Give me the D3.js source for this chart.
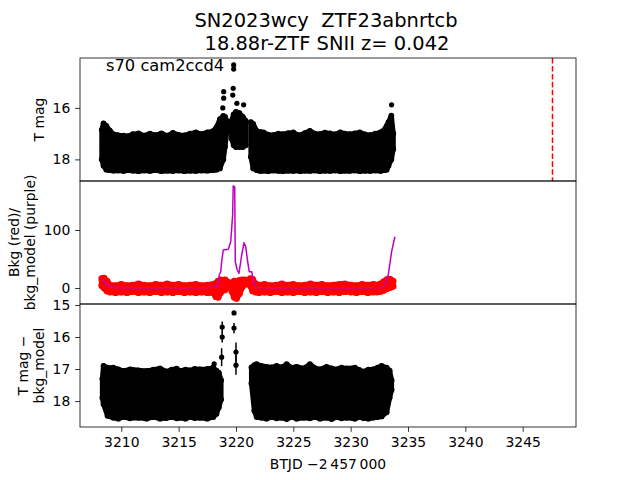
<!DOCTYPE html>
<html><head><meta charset="utf-8">
<script src="https://cdn.jsdelivr.net/npm/d3@7"></script>
<style>
body{margin:0;background:#fff}
svg{display:block}
text{font-family:"DejaVu Sans",sans-serif;fill:#000;white-space:pre}
</style>
</head><body>
<svg id="c" width="640" height="480"></svg>
<script>
// ---------------- data ----------------
const titleLines = ["SN2023wcy  ZTF23abnrtcb", "18.88r-ZTF SNII z= 0.042"];
const sectorLabel = "s70 cam2ccd4";
const xLabel = "BTJD \u22122\u2009457\u2009000";
const xTicks = [3210, 3215, 3220, 3225, 3230, 3235, 3240, 3245];
const magTicks = [16, 18];
const bkgTicks = [0, 100];
const diffTicks = [15, 16, 17, 18];
const refTime = 3247.6;

// Top panel: T mag, dense light curve envelope (bright edge / faint edge), null = gap
const magT  = [3208.30,3208.45,3208.70,3209.00,3209.30,3209.70,3210.20,3210.60,3211.00,3211.50,3212.00,3212.50,3213.00,3213.50,3214.00,3214.50,3215.00,3215.50,3216.00,3216.50,3217.00,3217.50,3218.00,3218.30,3218.60,3218.90,3219.05,3219.20,
               null,
               3219.62,3219.80,3220.00,3220.30,3220.60,3220.85,
               null,
               3221.30,3221.50,3221.80,3222.10,3222.40,3222.80,3223.25,3223.70,3224.10,3224.55,3225.00,3225.30,3225.60,3226.00,3226.45,3226.90,3227.30,3227.75,3228.20,3228.65,3229.10,3229.50,3229.90,3230.35,3230.80,3231.25,3231.70,3232.15,3232.60,3233.00,3233.14,3233.30,3233.55,3233.72];
const magHi = [16.85,16.60,16.70,16.88,17.02,17.06,17.08,17.10,17.02,16.99,17.08,17.00,17.06,16.99,17.08,16.97,17.05,17.07,17.00,16.95,17.02,16.95,16.90,16.76,16.44,16.31,16.35,16.50,
               null,
               16.50,16.25,16.15,16.20,16.35,16.50,
               null,
               16.55,16.62,16.89,16.93,16.95,17.04,17.06,17.00,17.02,16.98,16.95,17.04,17.06,16.98,16.89,17.00,17.02,16.96,16.99,17.03,16.95,17.00,17.02,16.99,16.95,17.03,17.06,17.00,16.95,16.82,16.70,16.55,16.30,17.00];
const magLo = [18.00,18.25,18.40,18.42,18.44,18.43,18.45,18.42,18.44,18.46,18.43,18.45,18.42,18.46,18.44,18.45,18.43,18.46,18.44,18.45,18.43,18.44,18.42,18.40,18.35,18.00,17.50,16.95,
               null,
               17.20,17.45,17.52,17.52,17.52,17.45,
               null,
               17.90,18.35,18.42,18.45,18.44,18.46,18.43,18.45,18.46,18.44,18.45,18.43,18.46,18.44,18.45,18.43,18.46,18.44,18.45,18.43,18.46,18.44,18.45,18.43,18.46,18.44,18.45,18.43,18.45,18.42,18.40,18.25,18.00,17.60];
// Top panel: isolated flare points
const flareT   = [3218.85,3218.93,3218.93,3219.72,3219.76,3219.80,3219.80,3220.08,3220.67,3233.57];
const flareMag = [16.00,15.62,15.37,15.50,15.24,14.49,14.33,15.82,15.88,15.88];
const flareErr = [0.05,0.05,0.05,0.05,0.05,0.06,0.06,0.05,0.05,0.05];

// Middle panel: background flux envelope (red) and background model (purple)
const bkgT  = [3208.30,3208.50,3208.75,3209.00,3209.50,3210.00,3210.50,3211.00,3211.50,3212.00,3212.50,3213.00,3213.50,3214.00,3214.50,3215.00,3215.50,3216.00,3216.50,3217.00,3217.50,3218.00,3218.25,3218.45,3218.65,3218.85,3219.05,3219.30,
               null,
               3219.65,3219.85,3220.05,3220.30,3220.55,3220.75,
               null,
               3221.25,3221.45,3221.70,3222.00,3222.50,3223.00,3223.50,3224.00,3224.50,3225.00,3225.50,3226.00,3226.50,3227.00,3227.50,3228.00,3228.50,3229.00,3229.50,3230.00,3230.50,3231.00,3231.50,3232.00,3232.30,3232.60,3232.90,3233.20,3233.45,3233.70];
const bkgHi = [16,17,12,5,4,6,4,5,7,5,4,6,5,7,5,6,4,5,6,4,5,6,8,12,14,10,14,10,
               null,
               8,12,10,13,14,14,
               null,
               16,15,7,5,6,4,5,7,5,6,4,5,7,5,6,4,5,6,7,5,4,6,5,6,5,7,11,15,15,12];
const bkgLo = [4,0,-5,-7,-8,-7,-8,-6,-8,-7,-8,-6,-8,-7,-8,-6,-8,-7,-8,-7,-8,-8,-15,-16,-8,-4,-3,2,
               null,
               -6,-16,-18,-10,2,6,
               null,
               4,-5,-7,-8,-7,-8,-6,-8,-7,-8,-6,-8,-7,-8,-6,-8,-7,-8,-6,-7,-8,-6,-8,-7,-7,-6,-4,-1,1,3];
const modelT = [3208.29,3208.45,3208.58,3209.01,3209.50,3210.50,3212.00,3214.00,3216.00,3217.50,3218.10,3218.32,3218.45,3218.54,3218.67,3218.75,3218.89,3219.33,3219.54,3219.71,3219.76,3219.89,3219.94,3220.11,3220.26,3220.50,3220.70,3220.85,3221.02,3221.16,3221.37,3221.57,3221.80,3223.00,3225.00,3227.00,3229.00,3231.00,3232.70,3232.99,3233.28,3233.57,3233.86];
const modelV = [15.5,11,8.1,2.2,0.8,0.5,0.6,0.5,0.6,0.8,1.2,2.2,10,22.4,28.1,45,65.5,66.7,79.8,125.9,175.9,174.7,45.3,31,25.3,56.9,78.1,71.2,45.3,28.1,28.1,8.1,0.8,0.5,0.6,0.5,0.6,0.5,0.8,5.2,22.4,62.6,88.4];

// Bottom panel: T mag - bkg_model envelope
const diffT  = [3208.35,3208.45,3208.80,3209.30,3209.75,3210.17,3210.76,3211.50,3212.21,3212.80,3213.37,3213.95,3214.40,3214.83,3215.12,3215.60,3215.99,3216.40,3216.86,3217.50,3218.02,3218.30,3218.50,3218.70,
                null,
                3221.35,3221.60,3221.80,3222.20,3222.67,3223.10,3223.54,3224.00,3224.42,3224.85,3225.29,3225.90,3226.45,3226.90,3227.32,3227.90,3228.35,3228.78,3229.20,3229.65,3230.37,3230.75,3231.10,3231.55,3231.97,3232.35,3232.70,3233.14,3233.40,3233.57];
const diffHi = [17.30,16.90,16.96,16.96,17.01,17.06,17.01,17.04,17.06,17.02,16.98,17.08,17.02,16.99,17.06,17.02,17.04,17.00,17.01,17.00,16.96,17.05,17.11,17.35,
                null,
                16.95,16.88,16.85,16.90,16.93,16.95,16.90,16.95,16.85,16.96,16.93,16.98,16.85,16.97,17.01,16.93,16.98,17.01,16.96,16.98,16.96,17.03,17.08,17.02,17.01,16.96,16.90,16.96,17.05,17.35];
const diffLo = [17.90,18.10,18.46,18.52,18.55,18.50,18.54,18.52,18.55,18.50,18.55,18.53,18.50,18.54,18.52,18.55,18.50,18.53,18.52,18.55,18.50,18.40,18.20,17.95,
                null,
                17.45,18.30,18.50,18.52,18.55,18.50,18.54,18.52,18.56,18.50,18.55,18.52,18.54,18.50,18.55,18.52,18.56,18.50,18.54,18.52,18.55,18.50,18.53,18.55,18.52,18.50,18.48,18.35,17.90,17.65];
// Bottom panel: isolated flare points
const dFlareT   = [3218.10,3218.75,3218.80,3218.80,3219.83,3219.83,3220.00,3220.00];
const dFlareMag = [16.84,16.63,16.00,15.69,15.25,15.72,16.47,16.88];
const dFlareErr = [0.05,0.28,0.17,0.17,0.06,0.16,0.30,0.30];

// ---------------- drawing ----------------
const svg = d3.select("#c");
const L = 80, R = 576;
const P = {top:[58,181], mid:[181,304], bot:[304,427]};
const FS = 13.9;

const x = d3.scaleLinear().domain([3206.4, 3249.65]).range([L, R]);
const yTop = d3.scaleLinear().domain([14.06, 18.84]).range([P.top[0], P.top[1]]);
const yMid = d3.scaleLinear().domain([-27.6, 184.5]).range([P.mid[1], P.mid[0]]);
const yBot = d3.scaleLinear().domain([14.97, 18.81]).range([P.bot[0], P.bot[1]]);

const defs = svg.append("defs");
function panel(name, y0, y1) {
  defs.append("clipPath").attr("id", "clip-" + name)
    .append("rect").attr("x", L).attr("y", y0).attr("width", R - L).attr("height", y1 - y0);
  return svg.append("g").attr("clip-path", `url(#clip-${name})`);
}

function envelope(g, T, hi, lo, y, color, r) {
  const rows = T.map((t, i) => ({t, hi: hi[i], lo: lo[i]}));
  const area = d3.area().defined(d => d.t != null)
    .x(d => x(d.t)).y0(d => y(d.lo)).y1(d => y(d.hi));
  g.append("path").datum(rows).attr("d", area)
    .attr("fill", color).attr("stroke", color)
    .attr("stroke-width", 2 * r).attr("stroke-linejoin", "round");
  const pts = rows.filter(d => d.t != null);
  g.selectAll(null).data(pts).join("circle")
    .attr("cx", d => x(d.t)).attr("cy", d => y(d.hi)).attr("r", r + 0.4).attr("fill", color);
  g.selectAll(null).data(pts).join("circle")
    .attr("cx", d => x(d.t)).attr("cy", d => y(d.lo)).attr("r", r + 0.4).attr("fill", color);
}

function errPoints(g, T, M, E, y, r) {
  const rows = T.map((t, i) => ({t, m: M[i], e: E[i]}));
  g.selectAll(null).data(rows).join("line")
    .attr("x1", d => x(d.t)).attr("x2", d => x(d.t))
    .attr("y1", d => y(d.m - d.e)).attr("y2", d => y(d.m + d.e))
    .attr("stroke", "#000").attr("stroke-width", 1.5);
  g.selectAll(null).data(rows).join("circle")
    .attr("cx", d => x(d.t)).attr("cy", d => y(d.m)).attr("r", r).attr("fill", "#000");
}

// top panel
const gTop = panel("top", ...P.top);
envelope(gTop, magT, magHi, magLo, yTop, "#000", 2.5);
errPoints(gTop, flareT, flareMag, flareErr, yTop, 2.6);
gTop.append("line")
  .attr("x1", x(refTime)).attr("x2", x(refTime))
  .attr("y1", P.top[0]).attr("y2", P.top[1])
  .attr("stroke", "#ff0000").attr("stroke-width", 1.5)
  .attr("stroke-dasharray", "5.55,2.4");

// middle panel
const gMid = panel("mid", ...P.mid);
envelope(gMid, bkgT, bkgHi, bkgLo, yMid, "#ff0000", 3);
gMid.append("path")
  .datum(modelT.map((t, i) => ({t, v: modelV[i]})))
  .attr("d", d3.line().x(d => x(d.t)).y(d => yMid(d.v)))
  .attr("fill", "none").attr("stroke", "#bf00bf").attr("stroke-width", 1.5)
  .attr("stroke-linejoin", "round");

// bottom panel
const gBot = panel("bot", ...P.bot);
envelope(gBot, diffT, diffHi, diffLo, yBot, "#000", 2.5);
errPoints(gBot, dFlareT, dFlareMag, dFlareErr, yBot, 2.6);

// spines
Object.values(P).forEach(([a, b]) => {
  svg.append("rect").attr("x", L).attr("y", a).attr("width", R - L).attr("height", b - a)
    .attr("fill", "none").attr("stroke", "#000").attr("stroke-width", 0.8);
});

// axes
function styleAxis(g) {
  g.select(".domain").remove();
  g.selectAll(".tick line").attr("stroke", "#000").attr("stroke-width", 0.8);
  g.selectAll(".tick text").attr("font-size", FS).attr("font-family", "DejaVu Sans").attr("fill", "#000");
}
svg.append("g").attr("transform", `translate(0,${P.bot[1]})`)
  .call(d3.axisBottom(x).tickValues(xTicks).tickFormat(d3.format("d")).tickSize(4.86).tickPadding(4.86))
  .call(styleAxis);
[[yTop, magTicks], [yMid, bkgTicks], [yBot, diffTicks]].forEach(([s, t]) => {
  svg.append("g").attr("transform", `translate(${L},0)`)
    .call(d3.axisLeft(s).tickValues(t).tickFormat(d3.format("d")).tickSize(4.86).tickPadding(4.86))
    .call(styleAxis);
});

// labels
function vlabel(lines, xs, yc) {
  lines.forEach((s, i) => {
    svg.append("text").attr("transform", `translate(${xs[i]},${yc}) rotate(-90)`)
      .attr("text-anchor", "middle").attr("font-size", FS).text(s);
  });
}
vlabel(["T mag"], [43.7], (P.top[0] + P.top[1]) / 2);
vlabel(["Bkg (red)/", "bkg_model (purple)"], [19.2, 35.2], (P.mid[0] + P.mid[1]) / 2);
vlabel(["T mag \u2212", "bkg_model"], [27.5, 43.7], (P.bot[0] + P.bot[1]) / 2);

svg.append("text").attr("x", (L + R) / 2).attr("y", 469).attr("text-anchor", "middle")
  .attr("font-size", FS).text(xLabel);

svg.append("text").attr("x", 326).attr("y", 27).attr("text-anchor", "middle")
  .attr("xml:space", "preserve").attr("font-size", 19.44).text(titleLines[0]);
svg.append("text").attr("x", 327).attr("y", 50).attr("text-anchor", "middle")
  .attr("font-size", 19.44).text(titleLines[1]);

svg.append("text").attr("x", 106).attr("y", 71).attr("font-size", 16.3).text(sectorLabel);
</script>
</body></html>
